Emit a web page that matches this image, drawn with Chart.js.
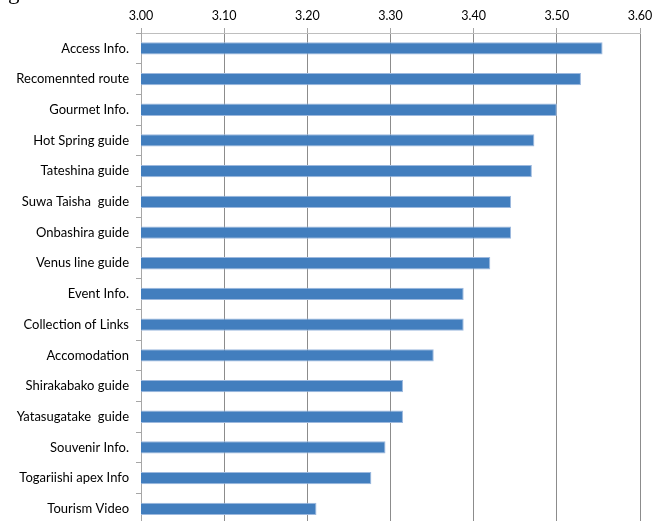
<!DOCTYPE html>
<html>
<head>
<meta charset="utf-8">
<script src="https://cdn.jsdelivr.net/npm/chart.js@4"></script>
<style>
    body { margin: 0; background: #FFFFFF; overflow: hidden; }
    #wrap { position: relative; width: 660px; height: 521px; overflow: hidden; }
    #cut { position: absolute; left: 8px; top: -19px; font-family: "Liberation Serif"; font-size: 23px; line-height: 22px; color: #000000; }
    canvas { display: block; }
</style>
</head>
<body>
<div id="wrap">
    <div id="cut">g</div>
    <canvas id="chart" width="660" height="539"></canvas>
</div>
<script>
// survey items, top to bottom
var items = [
    "Access Info.", "Recomennted route", "Gourmet Info.", "Hot Spring guide",
    "Tateshina guide", "Suwa Taisha  guide", "Onbashira guide", "Venus line guide",
    "Event Info.", "Collection of Links", "Accomodation", "Shirakabako guide",
    "Yatasugatake  guide", "Souvenir Info.", "Togariishi apex Info", "Tourism Video"
];
// mean score
var scores = [
    3.555, 3.529, 3.500, 3.473, 3.470, 3.445, 3.445, 3.420,
    3.388, 3.388, 3.352, 3.315, 3.315, 3.294, 3.277, 3.211
];
var axisMin = 3.0;
var axisMax = 3.6;
var axisStep = 0.1;

function draw_bars(ctx, labels, values) {
    new Chart(ctx, {
        type: 'bar',
        data: {
            labels: labels,
            datasets: [{
                data: values,
                backgroundColor: '#427EBE',
                borderColor: '#9DB9DE',
                borderWidth: 1,
                borderSkipped: false,
                barPercentage: 0.4,
                categoryPercentage: 1.0
            }]
        },
        options: {
            indexAxis: 'y',
            responsive: false,
            animation: false,
            layout: { padding: { left: 0, right: 20, top: 0, bottom: 6 } },
            plugins: {
                legend: { display: false },
                tooltip: { enabled: false }
            },
            scales: {
                x: {
                    position: 'top',
                    min: axisMin,
                    max: axisMax,
                    afterFit: function (scale) { scale.height = 33; },
                    ticks: {
                        stepSize: axisStep,
                        padding: 5,
                        color: '#000000',
                        font: { family: 'Lato', size: 12.5 },
                        callback: function (v) { return Number(v).toFixed(2); }
                    },
                    grid: { color: '#8C8C8C', tickColor: '#A6A6A6', tickLength: 5 },
                    border: { color: '#BEBEBE' }
                },
                y: {
                    afterFit: function (scale) { scale.width = 141; },
                    ticks: {
                        padding: 7,
                        color: '#000000',
                        font: { family: 'Lato', size: 13 }
                    },
                    grid: { drawOnChartArea: false, color: '#A6A6A6', tickLength: 5 },
                    border: { color: '#A6A6A6' }
                }
            }
        }
    });
}

draw_bars(document.getElementById('chart'), items, scores);
</script>
</body>
</html>
